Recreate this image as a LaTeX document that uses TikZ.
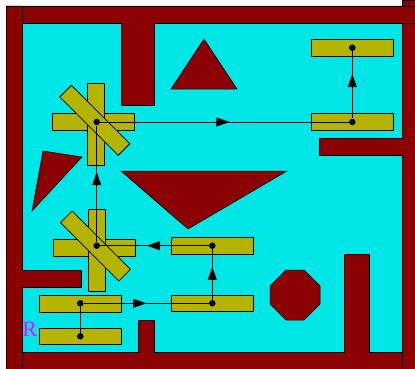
\documentclass[tikz,border=0pt]{standalone}
\usepackage{tikz}
\usepackage{fontspec}
\setmainfont{Liberation Serif}
\usetikzlibrary{arrows.meta,decorations.markings}
\definecolor{wallred}{HTML}{8B0000}
\definecolor{freecyan}{HTML}{00E6E6}
\definecolor{armolive}{HTML}{B3B300}
\definecolor{labelpink}{HTML}{FF00FF}

\begin{document}
\begin{tikzpicture}[x=1pt, y=-1pt, line width=0.8pt,
  wall/.style={fill=wallred, draw=black},
  arm/.style={draw=black, fill=armolive, rectangle, inner sep=0pt, minimum width=82.5pt, minimum height=16.5pt},
  joint/.style={circle, fill=black, inner sep=0pt, minimum size=6.5pt},
  midarrow/.style={postaction={decorate}, decoration={markings, mark=at position #1 with {\arrow{Triangle[length=13pt,width=9pt]}}}}]
  \useasboundingbox (0,0) rectangle (415,369);
  \clip (0,0) rectangle (415,369);
  \fill[freecyan] (22,23) rectangle (402,352);
  % walls
  \draw[wall] (6,352) -- (138,352) -- (138,320) -- (154,320) -- (154,352) -- (344,352) -- (344,254) -- (369,254) -- (369,352) -- (425,352) -- (425,380) -- (6,380) -- cycle;
  \draw[wall] (402,0) -- (425,0) -- (425,380) -- (402,380) -- (402,155) -- (319,155) -- (319,138) -- (402,138) -- cycle;
  \draw[wall] (6,6) -- (425,6) -- (425,23) -- (154,23) -- (154,105) -- (121,105) -- (121,23) -- (6,23) -- cycle;
  \draw[wall] (6,6) -- (22,6) -- (22,270) -- (81,270) -- (81,287) -- (22,287) -- (22,380) -- (6,380) -- cycle;
  % obstacles
  \draw[wall, line width=0.5pt] (171,89) -- (237,89) -- (204,39) -- cycle;
  \draw[wall, line width=0.5pt] (43,151) -- (82,157) -- (32,211) -- cycle;
  \draw[wall, line width=0.5pt] (121,171) -- (287,171) -- (188,229) -- cycle;
  \draw[wall, line width=0.5pt] (286,270) -- (304,270) -- (320,286) -- (320,304) -- (304,320) -- (286,320) -- (270,304) -- (270,286) -- cycle;
  % robot arms
  \node[arm] (a1) at (80.5,336.3) {};
  \node[arm] (a2) at (80.5,304) {};
  \node[arm] (a3) at (212.3,303.3) {};
  \node[arm] (a4) at (212.3,245.7) {};
  \node[arm] (a5h) at (94.5,247.8) {};
  \node[arm, rotate=90] (a5v) at (96.7,250.5) {};
  \node[arm, rotate=-45] (a5d) at (95.5,246) {};
  \node[arm] (a6h) at (93.5,122) {};
  \node[arm, rotate=90] (a6v) at (95.8,124.3) {};
  \node[arm, rotate=-45] (a6d) at (94.8,120.3) {};
  \node[arm] (a7) at (352.5,122) {};
  \node[arm] (a8) at (352.5,47.7) {};
  % path
  \node[joint] (c1) at (80.3,336.3) {};
  \node[joint] (c2) at (80.3,303.3) {};
  \node[joint] (c3) at (212.3,303.3) {};
  \node[joint] (c4) at (212.3,245.7) {};
  \node[joint] (c5) at (96.7,245.7) {};
  \node[joint] (c6) at (96.7,122) {};
  \node[joint] (c7) at (352.3,122) {};
  \node[joint] (c8) at (352.3,47.7) {};
  \draw (c1) -- (c2);
  \draw[midarrow=0.5] (c2) -- (c3);
  \draw[midarrow=0.65] (c3) -- (c4);
  \draw[midarrow=0.57] (c4) -- (c5);
  \draw[midarrow=0.6] (c5) -- (c6);
  \draw[midarrow=0.52] (c6) -- (c7);
  \draw[midarrow=0.66] (c7) -- (c8);
  \node[text=labelpink, font=\fontsize{22}{22}\selectfont, inner sep=0pt] (start) at (29.7,329) {R};
\end{tikzpicture}
\end{document}
